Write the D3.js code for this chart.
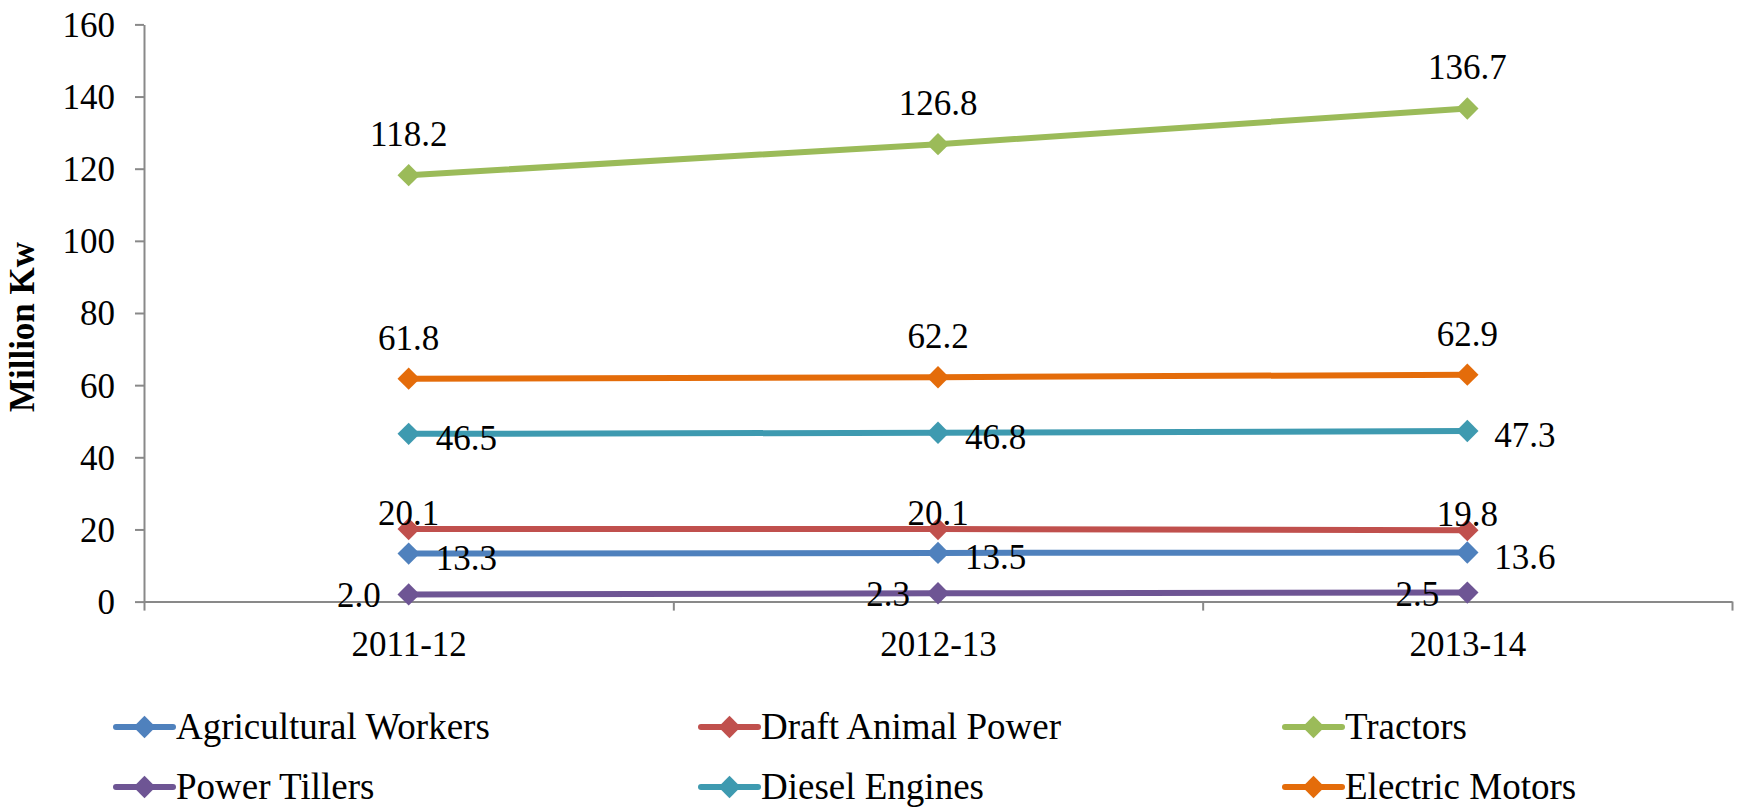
<!DOCTYPE html>
<html lang="en">
<head>
  <meta charset="UTF-8">
  <title>Million Kw by Power Source</title>
  <script src="https://d3js.org/d3.v7.min.js"></script>
  <style>
    body { margin: 0; background: #fff; }
    svg text { font-family: "Liberation Serif", "Times New Roman", "DejaVu Serif", serif !important; fill: #000; }
    .axis path, .axis line { stroke: #898989; stroke-width: 2px; }
    .axis text { font-size: 35px; }
  </style>
</head>
<body>
  <svg id="chart" width="1738" height="809"></svg>
  <script>
    // data
    const years = ["2011-12", "2012-13", "2013-14"];
    const agriculturalWorkers = [13.3, 13.5, 13.6];
    const draftAnimalPower = [20.1, 20.1, 19.8];
    const tractors = [118.2, 126.8, 136.7];
    const powerTillers = [2.0, 2.3, 2.5];
    const dieselEngines = [46.5, 46.8, 47.3];
    const electricMotors = [61.8, 62.2, 62.9];
    const yTicks = [0, 20, 40, 60, 80, 100, 120, 140, 160];

    // series in Excel draw order, with label placement
    const series = [
      { name: "Agricultural Workers", values: agriculturalWorkers, color: "#4F81BD", pos: "right" },
      { name: "Draft Animal Power", values: draftAnimalPower, color: "#C0504D", pos: "above-near" },
      { name: "Tractors", values: tractors, color: "#9BBB59", pos: "above" },
      { name: "Power Tillers", values: powerTillers, color: "#6E5594", pos: "left" },
      { name: "Diesel Engines", values: dieselEngines, color: "#3E9AB0", pos: "right" },
      { name: "Electric Motors", values: electricMotors, color: "#E46C0A", pos: "above" }
    ];

    const plot = { left: 144, right: 1732, top: 24.4, bottom: 601.6 };
    const svg = d3.select("#chart");

    const x = d3.scalePoint().domain(years).range([plot.left, plot.right]).padding(0.5);
    const xEdges = d3.scaleLinear().domain([0, years.length]).range([plot.left, plot.right]);
    const y = d3.scaleLinear().domain([0, 160]).range([plot.bottom, plot.top]);

    // y axis
    const yAxis = svg.append("g")
      .attr("class", "axis")
      .attr("transform", `translate(${plot.left},0)`)
      .call(d3.axisLeft(y).tickValues(yTicks).tickSize(9).tickSizeOuter(0).tickPadding(20));
    yAxis.selectAll("text").attr("dy", "0.34em");

    // x axis: boundary ticks
    svg.append("g")
      .attr("class", "axis")
      .attr("transform", `translate(0,${plot.bottom})`)
      .call(d3.axisBottom(xEdges).ticks(years.length).tickSize(9).tickSizeOuter(0).tickFormat(""));

    // x axis: category labels
    const xLab = svg.append("g")
      .attr("class", "axis")
      .attr("transform", `translate(0,${plot.bottom})`)
      .call(d3.axisBottom(x).tickSize(0).tickPadding(30));
    xLab.select(".domain").remove();

    // y title
    svg.append("text")
      .attr("transform", `translate(34,${(plot.top + plot.bottom) / 2 + 14}) rotate(-90)`)
      .attr("text-anchor", "middle")
      .attr("font-weight", "bold")
      .attr("font-size", 35)
      .text("Million Kw");

    const line = d3.line()
      .x((d, i) => x(years[i]))
      .y(d => y(d));

    const diamond = d3.symbol().type(d3.symbolSquare).size(250);

    // lines + markers
    series.forEach(s => {
      const g = svg.append("g");
      g.append("path")
        .attr("d", line(s.values))
        .attr("fill", "none")
        .attr("stroke", s.color)
        .attr("stroke-width", 6);
      g.selectAll("path.marker")
        .data(s.values)
        .enter()
        .append("path")
        .attr("class", "marker")
        .attr("d", diamond)
        .attr("fill", s.color)
        .attr("transform", (d, i) => `translate(${x(years[i])},${y(d)}) rotate(45)`);
    });

    // data labels on top
    const labels = svg.append("g").attr("font-size", 35);
    series.forEach(s => {
      s.values.forEach((v, i) => {
        const cx = x(years[i]), cy = y(v);
        const t = labels.append("text").text(v.toFixed(1));
        if (s.pos === "above") {
          t.attr("x", cx).attr("y", cy - 29).attr("text-anchor", "middle");
        } else if (s.pos === "above-near") {
          t.attr("x", cx).attr("y", cy - 4).attr("text-anchor", "middle");
        } else if (s.pos === "right") {
          t.attr("x", cx + 27).attr("y", cy + 16).attr("text-anchor", "start");
        } else {
          t.attr("x", cx - 28).attr("y", cy + 13).attr("text-anchor", "end");
        }
      });
    });

    // legend
    const legendCols = [116, 701, 1285];
    const legendRows = [727, 787];
    series.forEach((s, i) => {
      const lx = legendCols[i % 3], ly = legendRows[Math.floor(i / 3)];
      const g = svg.append("g").attr("transform", `translate(${lx},${ly})`);
      g.append("line")
        .attr("x1", 0).attr("x2", 57)
        .attr("stroke", s.color)
        .attr("stroke-width", 6)
        .attr("stroke-linecap", "round");
      g.append("path")
        .attr("d", diamond)
        .attr("fill", s.color)
        .attr("transform", "translate(28.5,0) rotate(45)");
      g.append("text")
        .attr("x", 60)
        .attr("y", 12)
        .attr("font-size", 37)
        .text(s.name);
    });
  </script>
</body>
</html>
